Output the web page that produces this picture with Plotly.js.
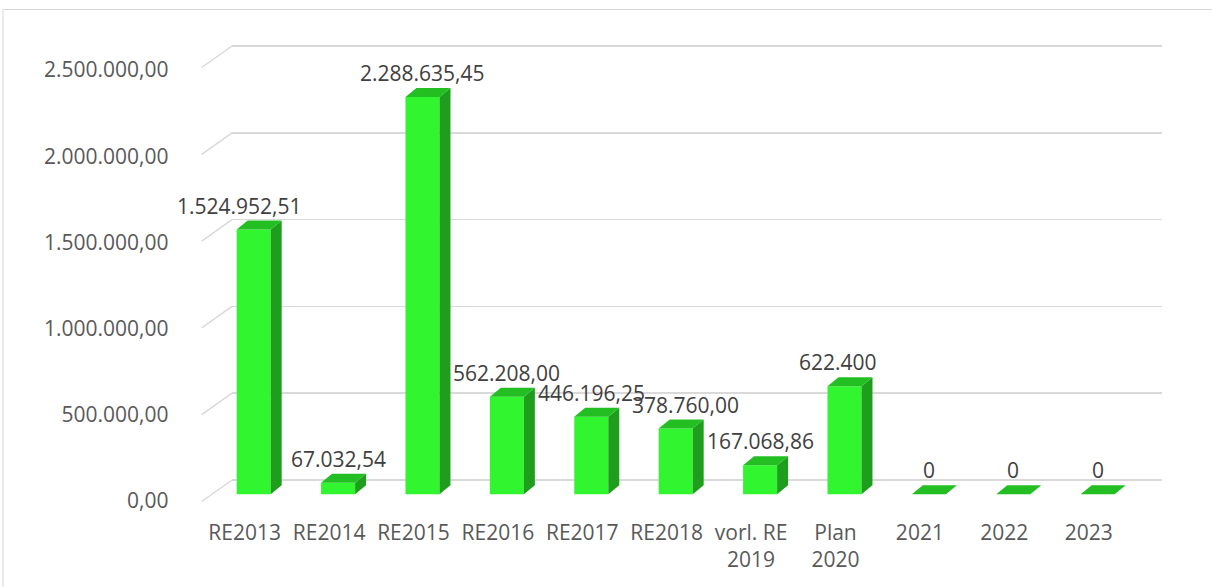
<!DOCTYPE html>
<html>
<head>
<meta charset="utf-8">
<script src="https://cdn.plot.ly/plotly-3.0.1.min.js"></script>
<style>html,body{margin:0;padding:0;background:#fff;}#chart{width:1212px;height:587px;}</style>
</head>
<body>
<div id="chart"></div>
<script>
// ---- data ----
const categories = ['RE2013','RE2014','RE2015','RE2016','RE2017','RE2018','vorl. RE<br>2019','Plan<br>2020','2021','2022','2023'];
const values = [1524952.51, 67032.54, 2288635.45, 562208.00, 446196.25, 378760.00, 167068.86, 622400, 0, 0, 0];
const valueLabels = ['1.524.952,51','67.032,54','2.288.635,45','562.208,00','446.196,25','378.760,00','167.068,86','622.400','0','0','0'];
const yTickVals = [0, 500000, 1000000, 1500000, 2000000, 2500000];

// ---- style / geometry (not data) ----
const W = 1212, H = 587;
const labelNudgePx = [-14, 0, 0, 0, 0, 10, 0, -6, 0, 0, 0];
const barW = 0.403;       // front face width in category units
const depthX = 0.13;      // 3D depth, category units
const depthY = 51843;     // 3D depth, value units
const colFront = '#31F52F', colSide = '#1F9E1D', colTop = '#22BE22';
const fontFam = '"Open Sans", "Noto Sans", sans-serif';
const fs = 21;

const xs = categories.map((_, i) => i);
const traces = [];
traces.push({
  type: 'bar', x: xs, y: values, width: barW,
  marker: {color: colFront, line: {width: 0}},
  hoverinfo: 'skip', showlegend: false
});
values.forEach((v, i) => {
  const l = i - barW / 2, r = i + barW / 2;
  if (v > 0) {
    traces.push({
      type: 'scatter', mode: 'lines', fill: 'toself', fillcolor: colSide,
      line: {width: 0, color: colSide},
      x: [r, r + depthX, r + depthX, r, r],
      y: [0, depthY, v + depthY, v, 0],
      hoverinfo: 'skip', showlegend: false
    });
  }
  traces.push({
    type: 'scatter', mode: 'lines', fill: 'toself', fillcolor: colTop,
    line: {width: 0, color: colTop},
    x: [l, r, r + depthX, l + depthX, l],
    y: [v, v, v + depthY, v + depthY, v],
    hoverinfo: 'skip', showlegend: false
  });
});
// helper empty traces so overlay axes are created
traces.push({type: 'scatter', x: [], y: [], xaxis: 'x', yaxis: 'y2', showlegend: false, hoverinfo: 'skip'});
traces.push({type: 'scatter', x: [], y: [], xaxis: 'x2', yaxis: 'y3', showlegend: false, hoverinfo: 'skip'});

// pixel helpers for layout domains
const px = p => p / W;
const py = p => 1 - p / H;

const plotTop = 20, plotBot = 520;
const barZeroPx = 494.3, barScale = 173.6e-6;    // px per value unit
const gridShiftPx = 14.3;
const yMain = [-(plotBot - barZeroPx) / barScale, (barZeroPx - plotTop) / barScale];
const gShift = gridShiftPx / barScale;
const yGrid = [yMain[0] - gShift, yMain[1] - gShift];
const lblZero = 501, lblScale = (501 - 70) / 2500000;
const yLbl = [-(plotBot - lblZero) / lblScale, (lblZero - plotTop) / lblScale];
const xRange = [-0.257, 10.762];
const xLblShift = 9 / 84.4;

const shapes = [{
  type: 'rect', xref: 'paper', yref: 'paper', layer: 'below',
  x0: px(3), x1: 1.05, y0: -0.05, y1: py(9.5),
  line: {color: '#d9d9d9', width: 1}, fillcolor: 'rgba(0,0,0,0)'
}];
const diagShift = 21.5 / barScale;
yTickVals.forEach(v => {
  shapes.push({
    type: 'line', xref: 'paper', yref: 'y2', layer: 'below',
    x0: px(201.7), y0: v - diagShift, x1: px(232), y1: v,
    line: {color: '#d9d9d9', width: 1.5}
  });
});

const annotations = values.map((v, i) => ({
  x: i, y: v, xref: 'x', yref: 'y', text: valueLabels[i], showarrow: false,
  yanchor: 'middle', xanchor: 'center', yshift: 24, xshift: labelNudgePx[i],
  font: {family: fontFam, size: fs, color: '#404040'}
}));

const layout = {
  width: W, height: H,
  margin: {l: 0, r: 0, t: 0, b: 0, pad: 0},
  paper_bgcolor: '#ffffff', plot_bgcolor: 'rgba(0,0,0,0)',
  separators: ',.',
  showlegend: false,
  font: {family: fontFam, size: fs, color: '#595959'},
  xaxis: {domain: [px(232), px(1162)], range: xRange, showgrid: false, zeroline: false,
          showticklabels: false, showline: false, ticks: '', fixedrange: true},
  xaxis2: {overlaying: 'x', anchor: 'free', position: py(518), range: [xRange[0] + xLblShift, xRange[1] + xLblShift],
           tickmode: 'array', tickvals: xs, ticktext: categories, showgrid: false, zeroline: false,
           showline: false, ticks: '', tickfont: {family: fontFam, size: fs, color: '#595959'}},
  yaxis: {domain: [py(plotBot), py(plotTop)], range: yMain, showgrid: false, zeroline: false,
          showticklabels: false, showline: false, ticks: ''},
  yaxis2: {overlaying: 'y', range: yGrid, showgrid: true, gridcolor: '#d9d9d9', gridwidth: 1.5,
           tickmode: 'array', tickvals: yTickVals, showticklabels: false, zeroline: false, showline: false, ticks: ''},
  yaxis3: {overlaying: 'y', anchor: 'free', position: px(168.5), side: 'left', range: yLbl,
           tickmode: 'array', tickvals: yTickVals, tickformat: ',.2f', showgrid: false, zeroline: false,
           showline: false, ticks: '', tickfont: {family: fontFam, size: fs, color: '#595959'}},
  shapes: shapes,
  annotations: annotations
};

Plotly.newPlot('chart', traces, layout, {displayModeBar: false, staticPlot: true});
</script>
</body>
</html>
